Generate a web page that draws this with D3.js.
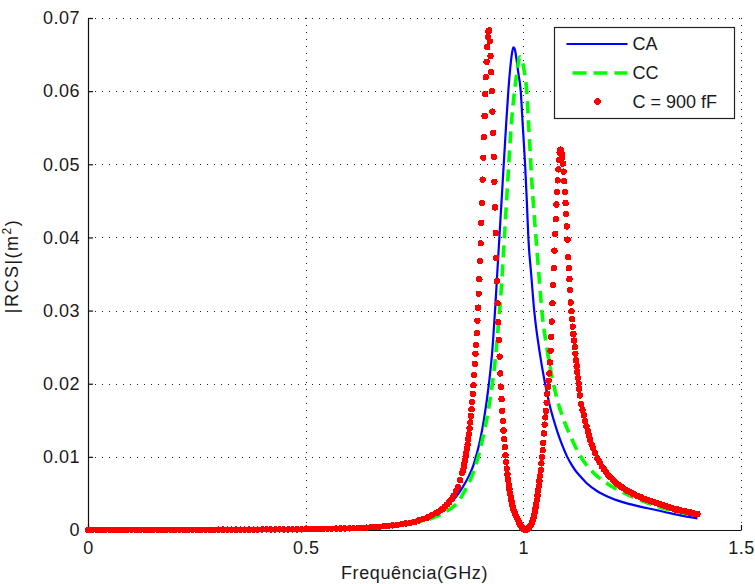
<!DOCTYPE html>
<html>
<head>
<meta charset="utf-8">
<script src="https://cdn.jsdelivr.net/npm/d3@7"></script>
<style>
  body { margin: 0; background: #fff; }
  svg { display: block; }
  text { font-family: "Liberation Sans", Arial, sans-serif; fill: #1a1a1a; }
</style>
</head>
<body>
<div id="chart"></div>
<script>
const xTicks = [0, 0.5, 1, 1.5];
const yTicks = [0, 0.01, 0.02, 0.03, 0.04, 0.05, 0.06, 0.07];
const seriesNames = ["CA", "CC", "C = 900 fF"];
const xLabel = "Frequência(GHz)";

// [GHz, m^2]
const caPoints = [
  [0, 0.00001], [0.1, 0.00002], [0.2, 0.00004], [0.3, 0.00007], [0.4, 0.00011], [0.5, 0.00018],
  [0.55, 0.00025], [0.6, 0.00035], [0.65, 0.0005], [0.7, 0.0008], [0.74, 0.0012], [0.77, 0.0017],
  [0.79, 0.0022], [0.81, 0.0028], [0.83, 0.0036], [0.845, 0.0045], [0.86, 0.0058], [0.875, 0.0074],
  [0.885, 0.0088], [0.891, 0.0100], [0.9, 0.0121], [0.91, 0.0153], [0.921, 0.0200], [0.928, 0.0240],
  [0.935, 0.0300], [0.94, 0.0350], [0.945, 0.0400], [0.95, 0.0450], [0.955, 0.0500], [0.96, 0.0550],
  [0.9655, 0.0600], [0.97, 0.0632], [0.974, 0.0652], [0.977, 0.0660], [0.98, 0.0658], [0.984, 0.0645],
  [0.988, 0.0627], [0.994, 0.0600], [0.999, 0.0550], [1.004, 0.0500], [1.008, 0.0450], [1.0115, 0.0400],
  [1.018, 0.0350], [1.025, 0.0300], [1.037, 0.0245], [1.05, 0.0200], [1.06, 0.0172], [1.07, 0.0150],
  [1.08, 0.0131], [1.09, 0.0115], [1.1, 0.0101], [1.11, 0.0090], [1.12, 0.0081], [1.13, 0.0074],
  [1.1456, 0.0064], [1.17, 0.0053], [1.2, 0.0044], [1.24, 0.0036], [1.268, 0.0032], [1.3, 0.0028],
  [1.337, 0.0023], [1.37, 0.0019], [1.4, 0.0016]
];

const ccPoints = [
  [0, 0.00001], [0.2, 0.00003], [0.4, 0.00008], [0.5, 0.00013], [0.6, 0.00025], [0.65, 0.0004],
  [0.7, 0.0006], [0.75, 0.0010], [0.79, 0.0016], [0.8162, 0.0023], [0.83, 0.0028], [0.847, 0.0036],
  [0.865, 0.0053], [0.8815, 0.0073], [0.894, 0.0095], [0.9044, 0.0119], [0.912, 0.0140], [0.9197, 0.0164],
  [0.926, 0.0188], [0.931, 0.0210], [0.935, 0.0230], [0.9426, 0.0280], [0.947, 0.0310], [0.951, 0.0345],
  [0.955, 0.0385], [0.959, 0.0425], [0.963, 0.0465], [0.968, 0.0515], [0.9733, 0.0561], [0.981, 0.0606],
  [0.987, 0.0633], [0.9924, 0.0647], [0.997, 0.0642], [1.002, 0.0628], [1.0078, 0.0600], [1.0115, 0.0561],
  [1.0154, 0.0520], [1.0192, 0.0479], [1.0246, 0.0433], [1.0307, 0.0387], [1.0368, 0.0342], [1.0425, 0.0300],
  [1.0537, 0.0250], [1.065, 0.0212], [1.077, 0.0180], [1.09, 0.0155], [1.107, 0.0130], [1.13, 0.0102],
  [1.16, 0.0079], [1.1916, 0.0064], [1.23, 0.0051], [1.268, 0.0041], [1.3, 0.0034], [1.337, 0.0027],
  [1.37, 0.0023], [1.398, 0.0020]
];

const c900Points = [
  [0.00, 0.00001], [0.01, 0.00001], [0.02, 0.00001], [0.03, 0.00001], [0.04, 0.00001],
  [0.05, 0.00001], [0.06, 0.00001], [0.07, 0.00001], [0.08, 0.00001], [0.09, 0.00001],
  [0.10, 0.00002], [0.11, 0.00002], [0.12, 0.00002], [0.13, 0.00002], [0.14, 0.00002],
  [0.15, 0.00002], [0.16, 0.00002], [0.17, 0.00002], [0.18, 0.00002], [0.19, 0.00002],
  [0.20, 0.00003], [0.21, 0.00003], [0.22, 0.00003], [0.23, 0.00003], [0.24, 0.00003],
  [0.25, 0.00003], [0.26, 0.00003], [0.27, 0.00003], [0.28, 0.00003], [0.29, 0.00003],
  [0.30, 0.00005], [0.31, 0.00005], [0.32, 0.00005], [0.33, 0.00005], [0.34, 0.00005],
  [0.35, 0.00005], [0.36, 0.00005], [0.37, 0.00005], [0.38, 0.00005], [0.39, 0.00005],
  [0.40, 0.00008], [0.41, 0.00008], [0.42, 0.00008], [0.43, 0.00008], [0.44, 0.00008],
  [0.45, 0.00008], [0.46, 0.00008], [0.47, 0.00008], [0.48, 0.00008], [0.49, 0.00008],
  [0.50, 0.00012], [0.51, 0.00013], [0.52, 0.00014], [0.53, 0.00015], [0.54, 0.00016],
  [0.55, 0.00017], [0.56, 0.00018], [0.57, 0.00019], [0.58, 0.0002], [0.59, 0.00021],
  [0.60, 0.00022], [0.61, 0.00024], [0.62, 0.00026], [0.63, 0.00029], [0.64, 0.00032],
  [0.65, 0.00036], [0.66, 0.0004], [0.67, 0.00045], [0.68, 0.0005], [0.69, 0.00056],
  [0.70, 0.00063], [0.71, 0.0007], [0.72, 0.00079], [0.73, 0.0009], [0.74, 0.001],
  [0.75, 0.0011], [0.76, 0.0013], [0.77, 0.0015], [0.78, 0.0017], [0.79, 0.002],
  [0.80, 0.0023], [0.805, 0.0025], [0.81, 0.0027], [0.815, 0.0029], [0.82, 0.0032],
  [0.825, 0.0035], [0.83, 0.0038], [0.835, 0.0042], [0.84, 0.0047], [0.845, 0.0053],
  [0.85, 0.0059], [0.855, 0.0068], [0.86, 0.0078],
  [0.8615, 0.0082], [0.863, 0.0086], [0.8645, 0.0090], [0.866, 0.0095], [0.8675, 0.0100],
  [0.869, 0.0105], [0.8705, 0.0111], [0.872, 0.0117], [0.8735, 0.0124], [0.875, 0.0131],
  [0.8765, 0.0139], [0.878, 0.0147], [0.8795, 0.0156], [0.881, 0.0165], [0.8825, 0.0175],
  [0.884, 0.0186], [0.8855, 0.0198], [0.887, 0.0212], [0.8885, 0.0227], [0.890, 0.0241],
  [0.8915, 0.0253], [0.893, 0.0269], [0.8945, 0.0286], [0.896, 0.0304], [0.8975, 0.0323],
  [0.899, 0.0343], [0.9005, 0.0368], [0.902, 0.0392], [0.9035, 0.0420], [0.905, 0.0447],
  [0.9065, 0.0479], [0.908, 0.0509], [0.9095, 0.0537], [0.911, 0.0566], [0.9125, 0.0596],
  [0.914, 0.0619], [0.9155, 0.0640], [0.917, 0.0660], [0.9185, 0.0674], [0.920, 0.0682],
  [0.9215, 0.0683], [0.923, 0.0668], [0.9245, 0.0648], [0.926, 0.0626], [0.9275, 0.0600],
  [0.929, 0.0572], [0.9305, 0.0543], [0.932, 0.0510], [0.9335, 0.0476], [0.935, 0.0441],
  [0.9365, 0.0406], [0.938, 0.0372], [0.9395, 0.0340], [0.941, 0.0310], [0.9425, 0.0284],
  [0.944, 0.0260], [0.9455, 0.0237], [0.947, 0.0214], [0.9485, 0.0196], [0.950, 0.0179],
  [0.9515, 0.0163], [0.953, 0.0149], [0.9545, 0.0136], [0.956, 0.0124], [0.9575, 0.0113],
  [0.959, 0.0102], [0.9605, 0.0093], [0.962, 0.0084], [0.9635, 0.0076], [0.965, 0.0069],
  [0.9665, 0.0062], [0.968, 0.0056], [0.9695, 0.0050], [0.971, 0.0045], [0.9725, 0.0040],
  [0.974, 0.0036], [0.9755, 0.0032], [0.977, 0.0029], [0.9785, 0.0026], [0.980, 0.0024],
  [0.9815, 0.0021], [0.983, 0.0019], [0.9845, 0.0017], [0.986, 0.0016], [0.9875, 0.0014],
  [0.989, 0.0012], [0.9905, 0.0010], [0.992, 0.0008], [0.9935, 0.0006], [0.995, 0.0005],
  [0.9965, 0.0004], [0.998, 0.0003], [0.9995, 0.0002], [1.001, 0.0001], [1.0025, 0.00004],
  [1.004, 0.00001], [1.0055, 0.0], [1.007, 0.00003], [1.0085, 0.00008], [1.010, 0.00015],
  [1.0115, 0.00024], [1.013, 0.00034], [1.0145, 0.00043], [1.016, 0.00055], [1.0175, 0.0007],
  [1.019, 0.0009], [1.0205, 0.0011], [1.022, 0.0014], [1.0235, 0.0017], [1.025, 0.0021],
  [1.0265, 0.0025], [1.028, 0.0030], [1.0295, 0.0035], [1.031, 0.0041], [1.0325, 0.0047],
  [1.034, 0.0054], [1.0355, 0.0060], [1.037, 0.0067], [1.0385, 0.0074], [1.040, 0.0082],
  [1.0415, 0.0091], [1.043, 0.0100], [1.0445, 0.0109], [1.046, 0.0119], [1.0475, 0.0132],
  [1.049, 0.0144], [1.0505, 0.0154], [1.052, 0.0163], [1.0535, 0.0174], [1.055, 0.0186],
  [1.0565, 0.0195], [1.058, 0.0204], [1.0595, 0.0214], [1.061, 0.0229], [1.0625, 0.0245],
  [1.064, 0.0264], [1.0655, 0.0285], [1.067, 0.0310], [1.0685, 0.0335], [1.070, 0.0358],
  [1.0715, 0.0382], [1.073, 0.0405], [1.0745, 0.0425], [1.076, 0.0445], [1.0775, 0.0462],
  [1.079, 0.0478], [1.0805, 0.0493], [1.082, 0.0506], [1.0835, 0.0516], [1.085, 0.0520],
  [1.0865, 0.0519], [1.088, 0.0515], [1.0895, 0.0509], [1.091, 0.0501], [1.0925, 0.0490],
  [1.094, 0.0477], [1.0955, 0.0462], [1.097, 0.0447], [1.0985, 0.0432], [1.100, 0.0415],
  [1.1015, 0.0397], [1.103, 0.0373], [1.1045, 0.0358], [1.106, 0.0343], [1.1075, 0.0328],
  [1.109, 0.0311], [1.1105, 0.0299], [1.112, 0.0288], [1.1135, 0.0278], [1.115, 0.0268],
  [1.1165, 0.0259], [1.118, 0.0250], [1.1195, 0.0241], [1.121, 0.0232], [1.1225, 0.0224],
  [1.124, 0.0216], [1.1255, 0.0208], [1.127, 0.0200], [1.1285, 0.0193], [1.130, 0.0184],
  [1.133, 0.0172], [1.136, 0.0164], [1.139, 0.0157], [1.142, 0.0149], [1.145, 0.0142],
  [1.148, 0.0135], [1.151, 0.0129], [1.154, 0.0123], [1.157, 0.0117], [1.160, 0.0112],
  [1.165, 0.0105], [1.170, 0.0098], [1.175, 0.0093], [1.180, 0.0087], [1.185, 0.0083],
  [1.190, 0.0079], [1.195, 0.0075], [1.200, 0.0072], [1.205, 0.0069], [1.210, 0.0066],
  [1.215, 0.0063], [1.220, 0.0061], [1.225, 0.0059], [1.230, 0.0057], [1.235, 0.0055],
  [1.240, 0.0053], [1.245, 0.0052], [1.250, 0.0050], [1.255, 0.0049], [1.260, 0.0047],
  [1.265, 0.0046], [1.270, 0.0045], [1.275, 0.0043], [1.280, 0.0042], [1.285, 0.0041],
  [1.290, 0.0040], [1.295, 0.0039], [1.300, 0.0038], [1.305, 0.0037], [1.310, 0.0036],
  [1.315, 0.0035], [1.320, 0.0034], [1.325, 0.0033], [1.330, 0.0032], [1.335, 0.0031],
  [1.340, 0.0030], [1.345, 0.0029], [1.350, 0.0028], [1.355, 0.0028], [1.360, 0.0027],
  [1.365, 0.0026], [1.370, 0.0026], [1.375, 0.0025], [1.380, 0.0024], [1.385, 0.0024],
  [1.390, 0.0023], [1.395, 0.0022], [1.400, 0.0022]
];

class RcsChart {

    constructor(containerId) {
        this.containerId = containerId;
        this.width = 755;
        this.height = 584;
        this.margin = { top: 18, right: 14, bottom: 54, left: 88 };
        this.render();
    }

    render() {
        const m = this.margin;
        const w = this.width - m.left - m.right;
        const h = this.height - m.top - m.bottom;

        const svg = d3.select(this.containerId)
            .append("svg")
            .attr("width", this.width)
            .attr("height", this.height);

        const g = svg.append("g").attr("transform", `translate(${m.left},${m.top})`);

        const x = d3.scaleLinear().domain([0, 1.5]).range([0, w]);
        const y = d3.scaleLinear().domain([0, 0.07]).range([h, 0]);

        // dotted grid
        g.selectAll(".vgrid")
            .data(xTicks.filter(d => d > 0))
            .enter()
            .append("line")
            .attr("x1", d => Math.round(x(d)) + 0.5)
            .attr("x2", d => Math.round(x(d)) + 0.5)
            .attr("y1", 0)
            .attr("y2", h)
            .attr("stroke", "#222")
            .attr("stroke-dasharray", "1,6");

        g.selectAll(".hgrid")
            .data(yTicks.filter(d => d > 0))
            .enter()
            .append("line")
            .attr("x1", 0)
            .attr("x2", w)
            .attr("y1", d => Math.round(y(d)) + 0.5)
            .attr("y2", d => Math.round(y(d)) + 0.5)
            .attr("stroke", "#222")
            .attr("stroke-dasharray", "1,6");

        // axes, ticks pointing inward
        const xAxis = g.append("g")
            .attr("transform", `translate(0,${h})`)
            .call(d3.axisBottom(x).tickValues(xTicks).tickSizeInner(-5).tickSizeOuter(0)
                .tickPadding(11).tickFormat(d => String(d)));

        const yAxis = g.append("g")
            .call(d3.axisLeft(y).tickValues(yTicks).tickSizeInner(-5).tickSizeOuter(0)
                .tickPadding(8).tickFormat(d => String(d)));

        [xAxis, yAxis].forEach(a => {
            a.selectAll("path, line").attr("stroke", "#111").attr("stroke-width", 1.2);
            a.selectAll("text")
                .attr("font-size", 18)
                .attr("letter-spacing", 0.5)
                .attr("font-family", "'Liberation Sans', Arial, sans-serif")
                .attr("fill", "#1a1a1a");
        });

        const line = d3.line()
            .x(d => x(d[0]))
            .y(d => y(d[1]))
            .curve(d3.curveMonotoneX);

        g.append("path")
            .datum(caPoints)
            .attr("fill", "none")
            .attr("stroke", "#0000ff")
            .attr("stroke-width", 2.2)
            .attr("d", line);

        g.append("path")
            .datum(ccPoints)
            .attr("fill", "none")
            .attr("stroke", "#00ff00")
            .attr("stroke-width", 3.6)
            .attr("stroke-dasharray", "12,7")
            .attr("d", line);

        g.selectAll(".dot")
            .data(c900Points)
            .enter()
            .append("circle")
            .attr("cx", d => x(d[0]))
            .attr("cy", d => y(d[1]))
            .attr("r", 3.2)
            .attr("fill", "#ff0000")
            .attr("shape-rendering", "crispEdges");

        // axis labels
        svg.append("text")
            .attr("x", m.left + w / 2)
            .attr("y", 579)
            .attr("text-anchor", "middle")
            .attr("font-size", 18)
            .attr("letter-spacing", 0.6)
            .text(xLabel);

        const yl = svg.append("text")
            .attr("transform", "translate(18,266) rotate(-90)")
            .attr("text-anchor", "middle")
            .attr("font-size", 18)
            .attr("letter-spacing", 1.5);
        yl.append("tspan").text("|RCS|(m");
        yl.append("tspan").attr("dy", -7).attr("font-size", 12).text("2");
        yl.append("tspan").attr("dy", 7).text(")");

        // legend
        const lg = svg.append("g").attr("transform", "translate(554.5,27.5)");
        lg.append("rect")
            .attr("width", 180)
            .attr("height", 91)
            .attr("fill", "#fff")
            .attr("stroke", "#222")
            .attr("stroke-width", 1.2);

        const rowY = [16.5, 45.5, 74];
        const rows = lg.selectAll(".row")
            .data(seriesNames)
            .enter()
            .append("g")
            .attr("transform", (d, i) => `translate(0,${rowY[i]})`);

        rows.append("text")
            .attr("x", 78)
            .attr("dy", "0.36em")
            .attr("font-size", 18)
            .text(d => d);

        lg.append("line")
            .attr("x1", 12).attr("x2", 73)
            .attr("y1", rowY[0]).attr("y2", rowY[0])
            .attr("stroke", "#0000ff").attr("stroke-width", 2.2);
        lg.append("line")
            .attr("x1", 18).attr("x2", 73)
            .attr("y1", rowY[1]).attr("y2", rowY[1])
            .attr("stroke", "#00ff00").attr("stroke-width", 3.6)
            .attr("stroke-dasharray", "14,7");
        lg.append("circle")
            .attr("cx", 43).attr("cy", rowY[2])
            .attr("r", 3.2)
            .attr("fill", "#ff0000")
            .attr("shape-rendering", "crispEdges");
    }
}

new RcsChart("#chart");
</script>
</body>
</html>
